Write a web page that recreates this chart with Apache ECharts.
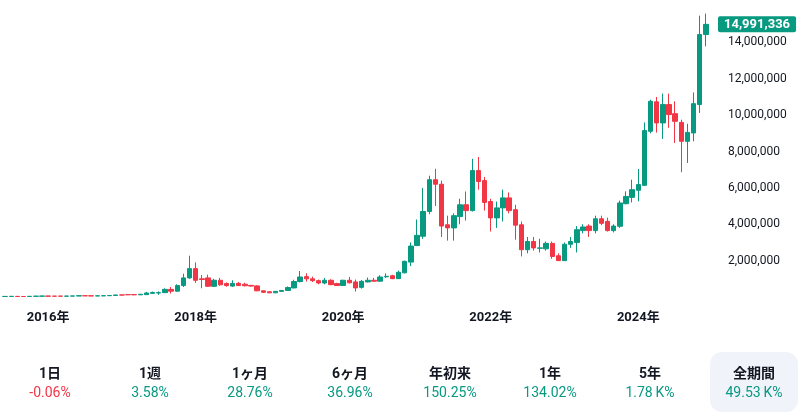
<!DOCTYPE html>
<html>
<head>
<meta charset="utf-8">
<script src="https://cdn.jsdelivr.net/npm/echarts@6/dist/echarts.min.js"></script>
<style>
  body { margin: 0; background: #fff; }
  #wrap { position: relative; width: 800px; height: 420px; }
  #chart { width: 800px; height: 420px; }
  .stats {
    position: absolute; left: 0; top: 352px; width: 800px; height: 60px;
    display: flex; font-family: Roboto, "Noto Sans CJK JP", sans-serif;
  }
  .stats .cell {
    flex: 0 0 100px; display: flex; flex-direction: column;
    align-items: center; justify-content: center;
  }
  .stats .cell.active {
    flex: 0 0 88px; margin-left: 10px; background: #f0f3fa; border-radius: 12px;
  }
  .stats .name { font-size: 14px; font-weight: bold; color: #131722; line-height: 19px; }
  .stats .val { font-size: 14px; line-height: 18px; }
</style>
</head>
<body>
<div id="wrap">
  <div id="chart"></div>
  <div class="stats" id="stats"></div>
</div>
<script>
// 月足 BTC/JPY  [始値, 終値, 安値, 高値]  単位: 百万円
const startYear = 2015, startMonth = 6;

const ohlc2015 = [ // 6月〜12月
  [0.028, 0.032, 0.027, 0.034], [0.032, 0.035, 0.030, 0.037], [0.035, 0.028, 0.024, 0.036],
  [0.028, 0.027, 0.026, 0.030], [0.028, 0.038, 0.027, 0.040], [0.038, 0.046, 0.036, 0.060],
  [0.046, 0.052, 0.042, 0.058]
];
const ohlc2016 = [
  [0.052, 0.045, 0.042, 0.055], [0.046, 0.044, 0.040, 0.050], [0.048, 0.046, 0.044, 0.050],
  [0.046, 0.049, 0.045, 0.051], [0.049, 0.057, 0.048, 0.059], [0.057, 0.069, 0.055, 0.080],
  [0.069, 0.065, 0.058, 0.072], [0.065, 0.059, 0.053, 0.066], [0.059, 0.062, 0.058, 0.064],
  [0.062, 0.073, 0.061, 0.075], [0.073, 0.084, 0.072, 0.086], [0.084, 0.112, 0.083, 0.113]
];
const ohlc2017 = [
  [0.112, 0.109, 0.085, 0.125], [0.130, 0.125, 0.105, 0.135], [0.135, 0.120, 0.100, 0.148],
  [0.120, 0.150, 0.115, 0.152], [0.130, 0.220, 0.120, 0.280], [0.200, 0.250, 0.170, 0.300],
  [0.220, 0.240, 0.120, 0.310], [0.240, 0.420, 0.220, 0.480], [0.420, 0.320, 0.190, 0.550],
  [0.320, 0.630, 0.300, 0.700], [0.630, 1.050, 0.550, 1.280], [1.050, 1.560, 1.000, 2.270]
];
const ohlc2018 = [
  [1.560, 0.920, 0.780, 1.900], [1.000, 0.960, 0.480, 1.210], [1.050, 0.590, 0.550, 1.230],
  [0.590, 0.920, 0.550, 1.000], [0.920, 0.670, 0.620, 1.050], [0.740, 0.630, 0.560, 0.800],
  [0.600, 0.750, 0.560, 0.920], [0.750, 0.630, 0.600, 0.820], [0.700, 0.620, 0.580, 0.780],
  [0.640, 0.600, 0.570, 0.660], [0.610, 0.340, 0.320, 0.650], [0.340, 0.260, 0.220, 0.360]
];
const ohlc2019 = [
  [0.290, 0.230, 0.210, 0.310], [0.230, 0.310, 0.220, 0.330], [0.310, 0.360, 0.300, 0.380],
  [0.360, 0.520, 0.350, 0.580], [0.500, 0.850, 0.480, 0.950], [0.850, 1.100, 0.800, 1.430],
  [1.120, 1.000, 0.850, 1.300], [1.000, 0.900, 0.820, 1.120], [0.900, 0.770, 0.700, 0.960],
  [0.770, 0.920, 0.700, 1.050], [0.920, 0.680, 0.650, 0.970], [0.740, 0.630, 0.610, 0.780]
];
const ohlc2020 = [
  [0.630, 0.920, 0.620, 0.950], [0.920, 0.780, 0.750, 1.100], [0.830, 0.500, 0.300, 0.960],
  [0.530, 0.860, 0.460, 0.930], [0.830, 0.920, 0.800, 1.070], [0.920, 0.870, 0.840, 1.050],
  [0.870, 1.100, 0.850, 1.200], [1.110, 1.140, 1.050, 1.300], [1.170, 1.010, 0.980, 1.220],
  [1.010, 1.360, 1.000, 1.450], [1.330, 1.960, 1.300, 2.000], [1.920, 2.800, 1.700, 3.000]
];
const ohlc2021 = [
  [2.830, 3.390, 2.800, 4.260], [3.340, 4.700, 3.200, 6.000], [4.700, 6.450, 4.550, 6.670],
  [6.450, 6.200, 5.000, 7.050], [6.200, 3.900, 3.300, 6.400], [3.970, 3.800, 3.100, 4.470],
  [3.800, 4.470, 3.100, 4.600], [4.420, 5.070, 4.000, 5.400], [5.070, 4.750, 4.200, 5.800],
  [4.750, 6.950, 4.700, 7.600], [6.950, 6.350, 5.900, 7.700], [6.400, 5.200, 4.750, 6.600]
];
const ohlc2022 = [
  [5.250, 4.350, 3.600, 5.400], [4.350, 4.900, 3.800, 5.250], [4.900, 5.450, 4.150, 5.900],
  [5.450, 4.750, 4.600, 5.750], [4.800, 3.950, 3.150, 5.070], [3.970, 2.600, 2.230, 4.150],
  [2.600, 3.050, 2.400, 3.300], [3.050, 2.700, 2.550, 3.300], [2.680, 2.700, 2.450, 3.200],
  [2.650, 2.950, 2.550, 3.050], [2.950, 2.230, 2.100, 3.050], [2.270, 2.000, 1.980, 2.400]
];
const ohlc2023 = [
  [2.000, 2.900, 1.980, 3.000], [2.900, 3.050, 2.700, 3.300], [3.000, 3.700, 2.450, 3.900],
  [3.650, 3.850, 3.500, 4.000], [3.900, 3.650, 3.300, 4.000], [3.650, 4.300, 3.500, 4.470],
  [4.300, 4.050, 3.950, 4.470], [4.160, 3.650, 3.600, 4.360], [3.650, 3.900, 3.550, 4.000],
  [3.890, 5.170, 3.800, 5.300], [5.130, 5.530, 5.100, 5.810], [5.480, 5.900, 5.200, 6.450]
];
const ohlc2024 = [
  [5.870, 6.180, 5.260, 7.040], [6.140, 9.150, 6.100, 9.600], [9.110, 10.760, 9.000, 10.850],
  [10.730, 9.570, 9.040, 11.000], [9.570, 10.580, 8.690, 11.180], [10.580, 10.030, 9.300, 11.180],
  [10.080, 9.660, 8.470, 10.760], [9.600, 8.560, 6.860, 9.750], [8.560, 9.050, 7.370, 9.530],
  [9.020, 10.630, 8.560, 11.250], [10.580, 14.430, 10.120, 15.470], [14.430, 14.991336, 13.780, 15.580]
];

// 価格軸
const yMin = 0, yMax = 16000000, yStep = 2000000;

// 下のパフォーマンス欄
const periodLabels = ['1日', '1週', '1ヶ月', '6ヶ月', '年初来', '1年', '5年', '全期間'];
const periodChanges = ['-0.06%', '3.58%', '28.76%', '36.96%', '150.25%', '134.02%', '1.78\u2009K%', '49.53\u2009K%'];

const upColor = '#089981';
const downColor = '#F23645';

let candles = [].concat(ohlc2015, ohlc2016, ohlc2017, ohlc2018, ohlc2019,
  ohlc2020, ohlc2021, ohlc2022, ohlc2023, ohlc2024)
  .map(r => r.map(v => Math.round(v * 1e6)));

let months = [];
let y = startYear, m = startMonth;
for (let i = 0; i < candles.length; i++) {
  months.push(y + '-' + String(m).padStart(2, '0'));
  m++;
  if (m > 12) { m = 1; y++; }
}
const lastClose = candles[candles.length - 1][1];

let myChart = echarts.init(document.getElementById('chart'));
myChart.setOption({
  animation: false,
  textStyle: { fontFamily: 'Roboto, "Noto Sans CJK JP", sans-serif' },
  grid: { left: 2, right: 91, top: 6, bottom: 123 },
  xAxis: {
    type: 'category',
    data: months,
    boundaryGap: true,
    axisLine: { show: false },
    axisTick: { show: false },
    splitLine: { show: false },
    axisLabel: {
      margin: 14,
      color: '#131722',
      fontSize: 13,
      fontWeight: 'bold',
      interval: (idx, val) => val.slice(5) === '01' && Number(val.slice(0, 4)) % 2 === 0,
      formatter: val => val.slice(0, 4) + '年'
    }
  },
  yAxis: {
    type: 'value',
    position: 'right',
    min: yMin,
    max: yMax,
    interval: yStep,
    splitLine: { show: false },
    axisLine: { show: false },
    axisTick: { show: false },
    axisLabel: {
      margin: 19,
      color: '#131722',
      fontSize: 12,
      formatter: v => (v === yMin || v === yMax) ? '' : v.toLocaleString('en-US')
    }
  },
  series: [{
    type: 'candlestick',
    data: candles,
    barWidth: '80%',
    itemStyle: {
      color: upColor,
      color0: downColor,
      borderColor: upColor,
      borderColor0: downColor,
      borderWidth: 1
    },
    markLine: {
      silent: true,
      symbol: ['none', 'none'],
      lineStyle: { color: 'rgba(0,0,0,0)', width: 0, type: 'solid' },
      data: [{ yAxis: lastClose }],
      label: {
        show: true,
        position: 'end',
        distance: 9,
        formatter: p => Number(p.value).toLocaleString('en-US'),
        backgroundColor: upColor,
        color: '#fff',
        opacity: 1,
        fontSize: 13,
        fontWeight: 'bold',
        padding: [2, 6, 1, 6],
        borderRadius: 2
      }
    }
  }]
});

// パフォーマンス欄
let statsEl = document.getElementById('stats');
periodLabels.forEach((name, i) => {
  let cell = document.createElement('div');
  cell.className = 'cell' + (i === periodLabels.length - 1 ? ' active' : '');
  let val = periodChanges[i];
  let color = val.startsWith('-') ? downColor : upColor;
  cell.innerHTML = '<div class="name">' + name + '</div>' +
    '<div class="val" style="color:' + color + '">' + val + '</div>';
  statsEl.appendChild(cell);
});
</script>
</body>
</html>
